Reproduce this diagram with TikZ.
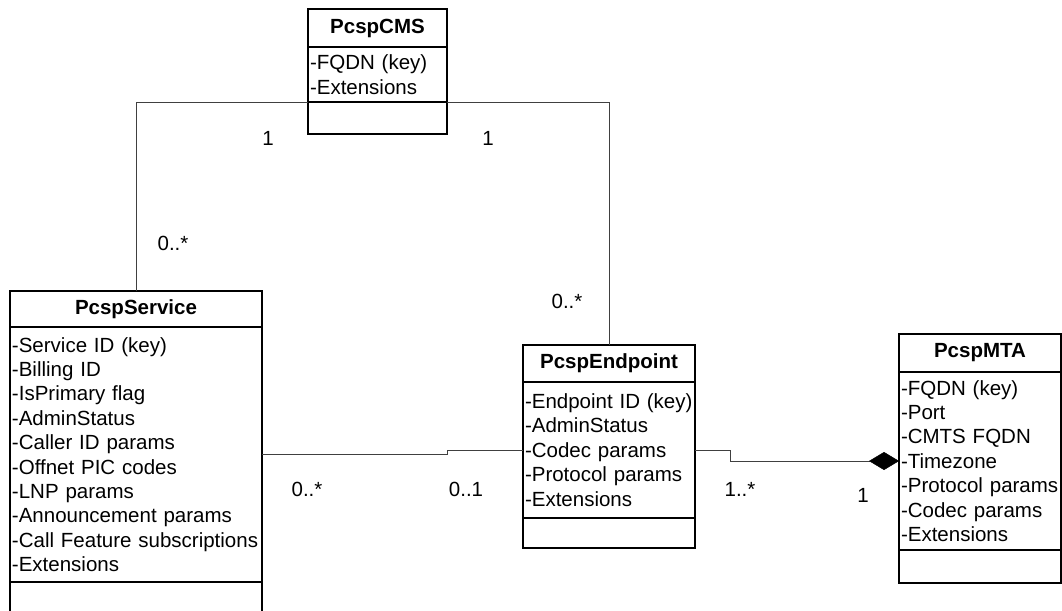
\documentclass[tikz,border=0pt]{standalone}
\usepackage{fontspec}
\setmainfont{Liberation Sans}
\usetikzlibrary{positioning,arrows.meta}

\tikzset{
  classtitle/.style={draw,line width=2pt,outer sep=0pt,inner sep=0pt,
    font=\fontsize{20.5}{24.4}\selectfont\bfseries},
  classattrs/.style={draw,line width=2pt,outer sep=0pt,inner xsep=2pt,inner ysep=0pt,
    align=left,font=\fontsize{20.5}{24.4}\selectfont},
  classops/.style={draw,line width=2pt,outer sep=0pt,inner sep=0pt},
  assoc/.style={line width=0.9pt,black!75},
  mult/.style={inner sep=0pt,font=\fontsize{20.5}{24.4}\selectfont}
}

\begin{document}
\begin{tikzpicture}[x=1pt,y=-1pt]
\useasboundingbox (0,0) rectangle (1062,610);

% PcspCMS
\node[classtitle,minimum width=139pt,minimum height=38pt,anchor=north west] (cms-t) at (308,9) {PcspCMS};
\node[classattrs,text width=135pt,minimum height=55pt,below=0pt of cms-t] (cms-a) {-FQDN (key)\\-Extensions};
\node[classops,minimum width=139pt,minimum height=32pt,below=0pt of cms-a] (cms-o) {};

% PcspService
\node[classtitle,minimum width=252pt,minimum height=36pt,anchor=north west] (svc-t) at (10,291) {PcspService};
\node[classattrs,text width=248pt,minimum height=255pt,below=0pt of svc-t] (svc-a) {-Service ID (key)\\-Billing ID\\-IsPrimary flag\\-AdminStatus\\-Caller ID params\\-Offnet PIC codes\\-LNP params\\-Announcement params\\-Call Feature subscriptions\\-Extensions};
\node[classops,minimum width=252pt,minimum height=32pt,below=0pt of svc-a] (svc-o) {};

% PcspEndpoint
\node[classtitle,minimum width=172pt,minimum height=37pt,anchor=north west] (ep-t) at (523,345) {PcspEndpoint};
\node[classattrs,text width=168pt,minimum height=136pt,below=0pt of ep-t] (ep-a) {-Endpoint ID (key)\\-AdminStatus\\-Codec params\\-Protocol params\\-Extensions};
\node[classops,minimum width=172pt,minimum height=30pt,below=0pt of ep-a] (ep-o) {};

% PcspMTA
\node[classtitle,minimum width=162pt,minimum height=38pt,anchor=north west] (mta-t) at (899,334) {PcspMTA};
\node[classattrs,text width=158pt,minimum height=178pt,below=0pt of mta-t] (mta-a) {-FQDN (key)\\-Port\\-CMTS FQDN\\-Timezone\\-Protocol params\\-Codec params\\-Extensions};
\node[classops,minimum width=162pt,minimum height=33pt,below=0pt of mta-a] (mta-o) {};

% associations
\draw[assoc] (svc-t.north) |- (cms-a.south west);
\draw[assoc] (cms-a.south east) -| (ep-t.north);
\draw[assoc] (svc-a.east) -- ++(185,0) |- (ep-a.west);
\draw[assoc,-{Diamond[length=30pt,width=18pt,black,line width=0.5pt]}] (ep-a.east) -- ++(35,0) |- (mta-a.west);

% multiplicities
\node[mult] (m-cms-svc) at (268,138) {1};
\node[mult] (m-cms-ep) at (488,138) {1};
\node[mult] (m-svc-cms) at (173,243) {0..*};
\node[mult] (m-ep-cms) at (567,301) {0..*};
\node[mult] (m-svc-ep) at (307,489) {0..*};
\node[mult] (m-ep-svc) at (466,489) {0..1};
\node[mult] (m-ep-mta) at (740,489) {1..*};
\node[mult] (m-mta-ep) at (863,495) {1};
\end{tikzpicture}
\end{document}
